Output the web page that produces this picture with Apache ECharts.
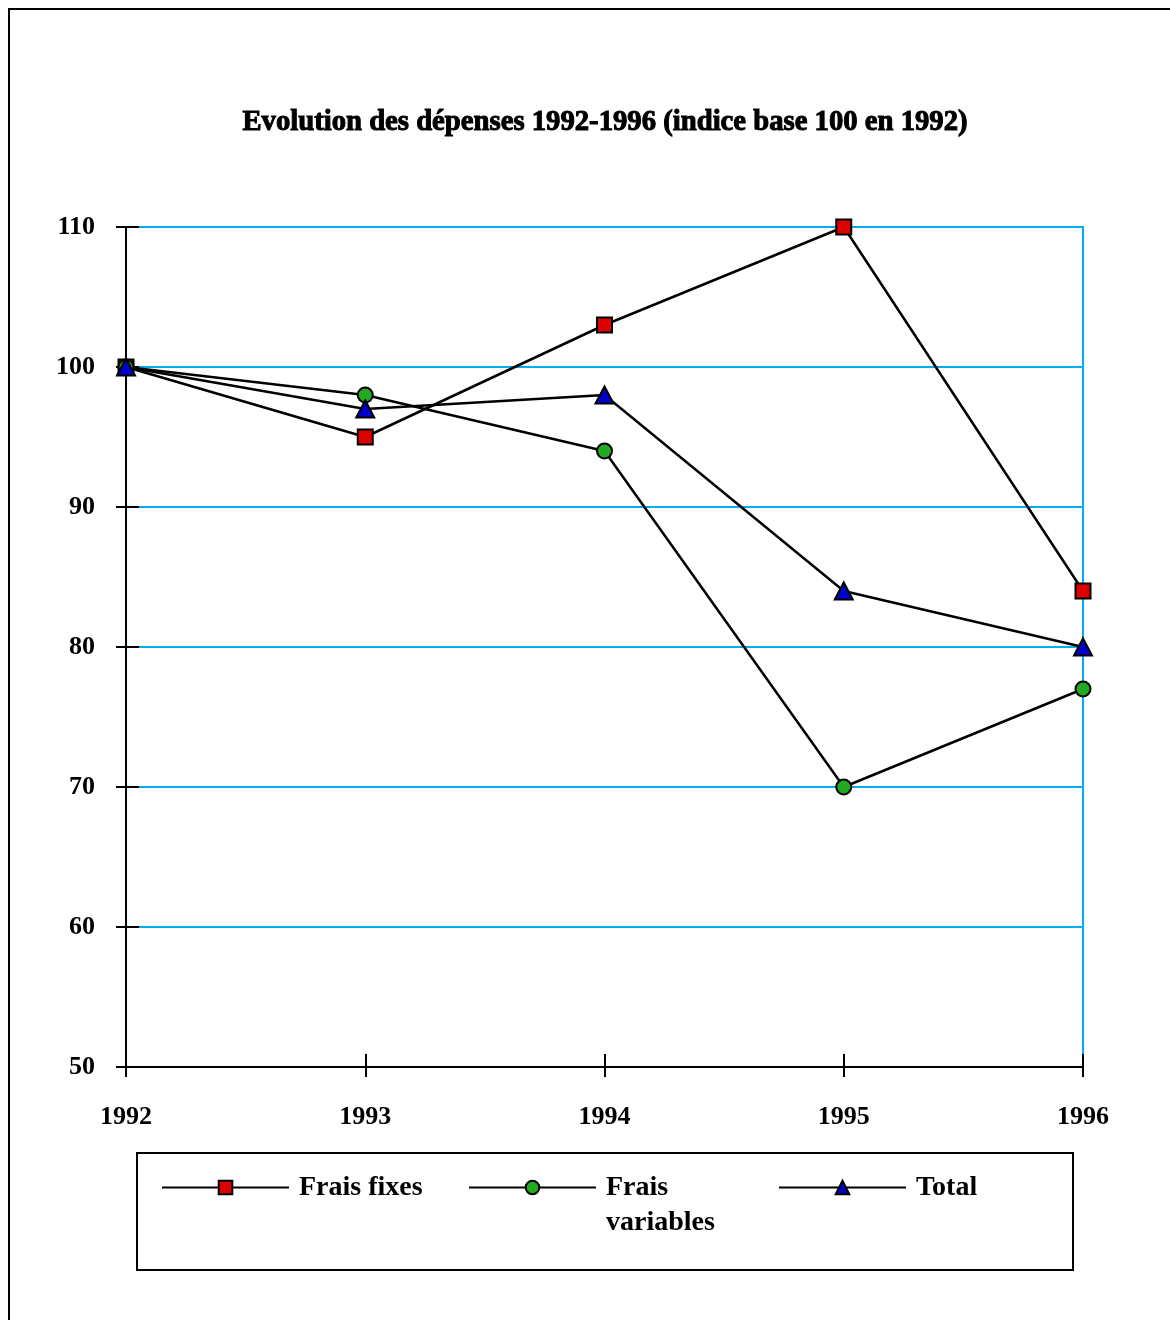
<!DOCTYPE html>
<html><head><meta charset="utf-8">
<script src="https://cdn.jsdelivr.net/npm/echarts@6/dist/echarts.min.js"></script>
<style>html,body{margin:0;padding:0;background:#fff}#c{width:1170px;height:1320px}</style>
</head><body><div id="c"></div>
<script>
const titleText = 'Evolution des dépenses 1992-1996 (indice base 100 en 1992)';
const years = ['1992', '1993', '1994', '1995', '1996'];
const fraisFixes = [100, 95, 103, 110, 84];
const fraisVariables = [100, 98, 94, 70, 77];
const total = [100, 97, 98, 84, 80];
const yMin = 50, yMax = 110, yStep = 10;

const serif = '"Liberation Serif", "Times New Roman", serif';
const blue = '#00aeef';
const chart = echarts.init(document.getElementById('c'), null, {renderer: 'canvas'});

const legendText = {fontFamily: serif, fontWeight: 'bold', fontSize: 28, color: '#000', lineHeight: 35, padding: [8, 0, 0, 5]};
function mkLegend(name, left, top, fmt) {
  return {
    data: [name], left: left, top: top, padding: 0, orient: 'horizontal',
    itemWidth: 127, itemHeight: 17, selectedMode: false,
    textStyle: legendText,
    formatter: fmt || '{name}'
  };
}

chart.setOption({
  animation: false,
  backgroundColor: '#fff',
  title: {
    text: titleText, left: 605, top: 108, textAlign: 'center', padding: 0,
    textStyle: {fontFamily: serif, fontWeight: 'bold', fontSize: 28.7, color: '#000', textBorderColor: '#000', textBorderWidth: 1}
  },
  graphic: [
    {type: 'rect', shape: {x: 9, y: 9, width: 1300, height: 1400}, style: {fill: 'none', stroke: '#000', lineWidth: 2}, silent: true},
    {type: 'rect', shape: {x: 137, y: 1153, width: 936, height: 117}, style: {fill: 'none', stroke: '#000', lineWidth: 2}, silent: true}
  ],
  legend: [
    mkLegend('Frais fixes', 161, 1166),
    mkLegend('Frais variables', 468, 1131, function () { return '\nFrais\nvariables'; }),
    mkLegend('Total', 778, 1166)
  ],
  grid: {left: 126, right: 87, top: 227, bottom: 253, show: true, borderColor: blue, borderWidth: 2, backgroundColor: 'transparent'},
  xAxis: [
    {
      type: 'category', data: years, boundaryGap: false, position: 'bottom',
      axisLine: {show: true, onZero: false, lineStyle: {color: '#000', width: 2}},
      axisTick: {show: true, inside: false, length: 10, alignWithLabel: true, lineStyle: {color: '#000', width: 2}},
      axisLabel: {show: true, margin: 37, fontFamily: serif, fontWeight: 'bold', fontSize: 26, color: '#000'},
      splitLine: {show: false}
    },
    {
      type: 'category', data: years, boundaryGap: false, position: 'bottom',
      axisLine: {show: false, onZero: false},
      axisTick: {show: true, inside: true, length: 13, lineStyle: {color: '#000', width: 2}},
      axisLabel: {show: false}, splitLine: {show: false}
    }
  ],
  yAxis: [
    {
      type: 'value', min: yMin, max: yMax, interval: yStep, position: 'left',
      axisLine: {show: true, lineStyle: {color: '#000', width: 2}},
      axisTick: {show: true, inside: false, length: 10, lineStyle: {color: '#000', width: 2}},
      axisLabel: {show: true, margin: 31, padding: [0, 0, 8, 0], fontFamily: serif, fontWeight: 'bold', fontSize: 26, color: '#000'},
      splitLine: {show: true, lineStyle: {color: blue, width: 2}}
    },
    {
      type: 'value', min: yMin, max: yMax, interval: yStep, position: 'left',
      axisLine: {show: false},
      axisTick: {show: true, inside: true, length: 13, lineStyle: {color: '#000', width: 2}},
      axisLabel: {show: false}, splitLine: {show: false}
    }
  ],
  series: [
    {
      name: 'Frais fixes', type: 'line', data: fraisFixes, xAxisIndex: 0, yAxisIndex: 0,
      symbol: 'rect', symbolSize: 15, showAllSymbol: true,
      lineStyle: {color: '#000', width: 2.5},
      itemStyle: {color: '#dd0000', borderColor: '#000', borderWidth: 2},
      emphasis: {disabled: true}
    },
    {
      name: 'Frais variables', type: 'line', data: fraisVariables, xAxisIndex: 0, yAxisIndex: 0,
      symbol: 'circle', symbolSize: 15, showAllSymbol: true,
      lineStyle: {color: '#000', width: 2.5},
      itemStyle: {color: '#22aa22', borderColor: '#000', borderWidth: 2},
      emphasis: {disabled: true}
    },
    {
      name: 'Total', type: 'line', data: total, xAxisIndex: 0, yAxisIndex: 0,
      symbol: 'triangle', symbolSize: [18, 17], showAllSymbol: true,
      lineStyle: {color: '#000', width: 2.5},
      itemStyle: {color: '#0000cc', borderColor: '#000', borderWidth: 2},
      emphasis: {disabled: true}
    }
  ]
});
</script></body></html>
